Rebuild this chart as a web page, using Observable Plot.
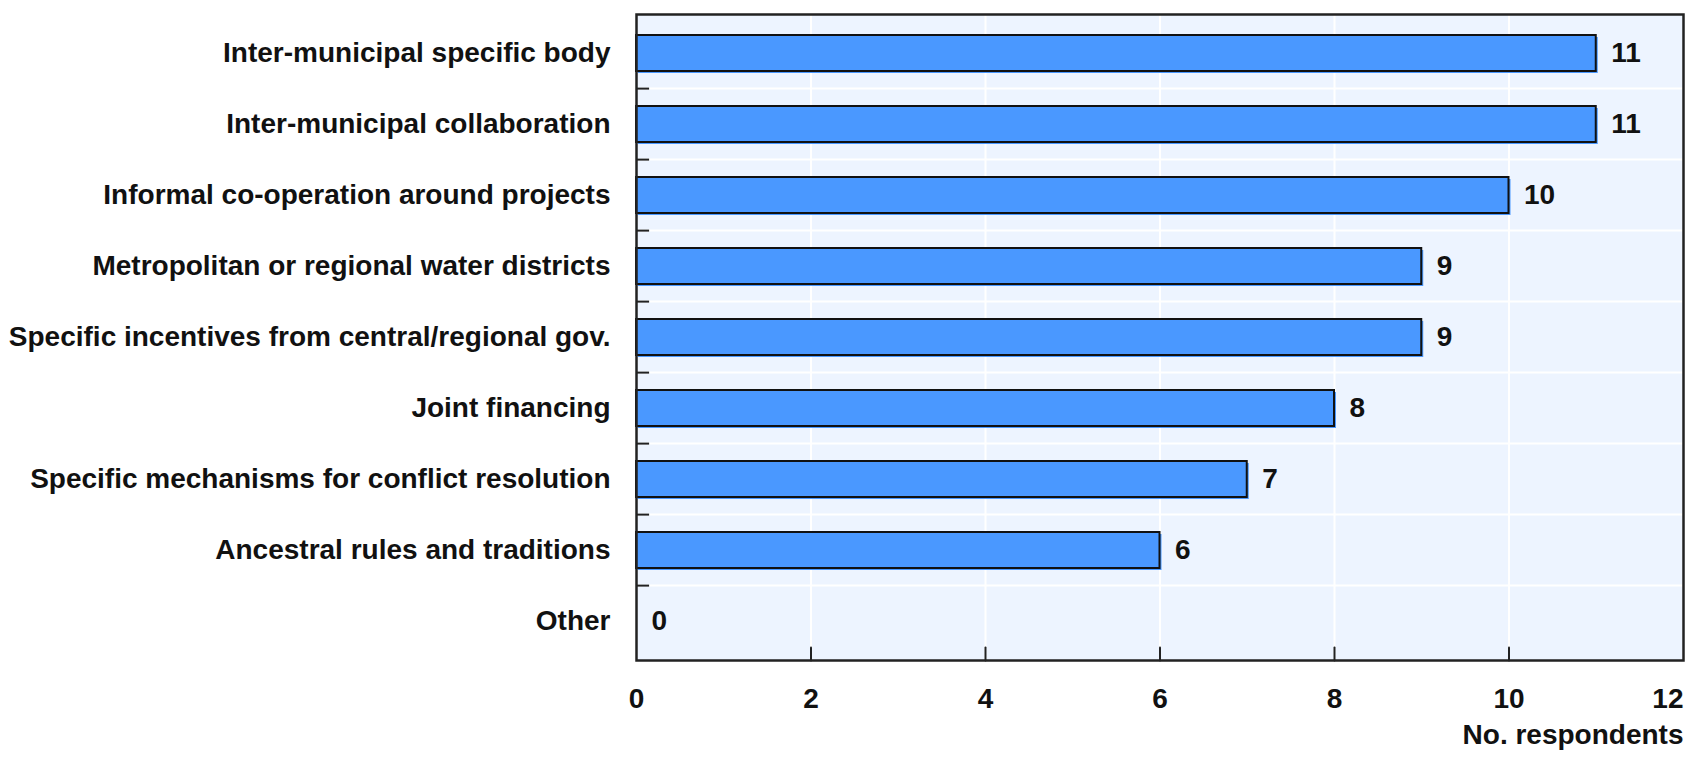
<!DOCTYPE html>
<html>
<head>
<meta charset="utf-8">
<script src="https://cdn.jsdelivr.net/npm/d3@7"></script>
<script src="https://cdn.jsdelivr.net/npm/@observablehq/plot@0.6"></script>
<style>
  html, body { margin: 0; padding: 0; background: #fff; }
  #chart svg { display: block; }
</style>
</head>
<body>
<div id="chart"></div>
<script>
const categories = [
  "Inter-municipal specific body",
  "Inter-municipal collaboration",
  "Informal co-operation around projects",
  "Metropolitan or regional water districts",
  "Specific incentives from central/regional gov.",
  "Joint financing",
  "Specific mechanisms for conflict resolution",
  "Ancestral rules and traditions",
  "Other"
];
const values = [11, 11, 10, 9, 9, 8, 7, 6, 0];
const xTicks = [0, 2, 4, 6, 8, 10, 12];
const xLabel = "No. respondents";

const data = categories.map((c, i) => ({category: c, value: values[i]}));

const W = 1689, H = 760;
const mt = 14, mb = 100, ml = 636, mr = 6;
const step = (H - mt - mb) / categories.length;
const font = "'Liberation Sans', Arial, sans-serif";
const fs = 28;

const tickShape = { draw(ctx, l) { ctx.moveTo(0, 0); ctx.lineTo(0, -l); } };

const chart = Plot.plot({
  width: W,
  height: H,
  marginTop: mt,
  marginBottom: mb,
  marginLeft: ml,
  marginRight: mr,
  style: { fontFamily: font, fontWeight: "bold", fontSize: fs + "px", color: "#000", background: "#fff" },
  x: { domain: [0, 12], ticks: xTicks, axis: null },
  y: { domain: categories, paddingInner: 0.5, paddingOuter: 0.25, axis: null },
  marks: [
    Plot.frame({ fill: "#EDF4FF" }),
    Plot.gridX({ ticks: xTicks, stroke: "#fff", strokeOpacity: 1, strokeWidth: 2 }),
    Plot.ruleY(categories.slice(1), { y: d => d, dy: -step / 2, stroke: "#fff", strokeWidth: 2 }),
    Plot.ruleY(categories.slice(1), { y: d => d, x1: 0, x2: 0.15, dy: -step / 2, stroke: "#222", strokeWidth: 2 }),
    Plot.vector(xTicks.slice(1, -1), { x: d => d, frameAnchor: "bottom", length: 13, rotate: 0, anchor: "start", shape: tickShape, stroke: "#222", strokeWidth: 2 }),
    Plot.barX(data, { x: "value", y: "category", fill: "#4A98FF", dx: 2, dy: 2 }),
    Plot.barX(data, { x: "value", y: "category", fill: "#4A98FF", stroke: "#111", strokeWidth: 2 }),
    Plot.text(data, { x: "value", y: "category", text: d => String(d.value), dx: 15, textAnchor: "start", fontSize: fs, fontWeight: "bold", fill: "#111" }),
    Plot.frame({ stroke: "#222", strokeWidth: 2.5 }),
    Plot.text(categories, { y: d => d, text: d => d, frameAnchor: "left", dx: -26, textAnchor: "end", fontSize: fs, fontWeight: "bold", fill: "#111" }),
    Plot.text(xTicks.slice(0, -1), { x: d => d, text: d => String(d), frameAnchor: "bottom", dy: 47, textAnchor: "middle", fontSize: fs, fontWeight: "bold", fill: "#111" }),
    Plot.text(xTicks.slice(-1), { x: d => d, text: d => String(d), frameAnchor: "bottom", dy: 47, textAnchor: "end", fontSize: fs, fontWeight: "bold", fill: "#111" }),
    Plot.text([xLabel], { frameAnchor: "bottom-right", dy: 83, textAnchor: "end", fontSize: fs, fontWeight: "bold", fill: "#111" })
  ]
});
document.getElementById("chart").appendChild(chart);
</script>
</body>
</html>
